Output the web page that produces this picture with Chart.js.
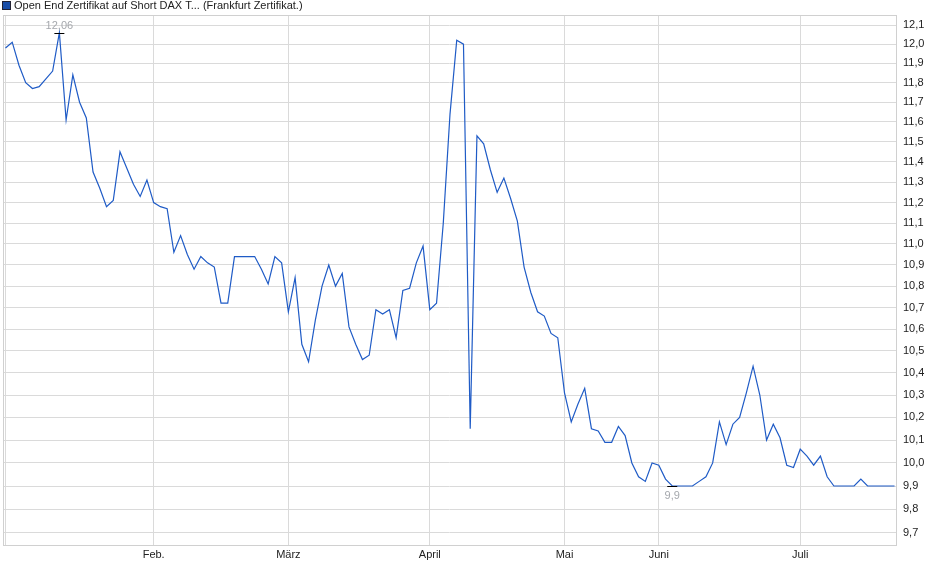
<!DOCTYPE html>
<html>
<head>
<meta charset="utf-8">
<title>Open End Zertifikat auf Short DAX</title>
<script src="https://cdn.jsdelivr.net/npm/chart.js@4.4.1/dist/chart.umd.min.js"></script>
<style>
  html, body { margin: 0; padding: 0; background: #fff; }
</style>
</head>
<body>
<canvas id="kursChart" width="940" height="579"></canvas>
<script>
// Kursverlauf (Handelstage, von Anfang Januar bis Ende Juli)
const kurse = [
  11.98, 12.01, 11.89, 11.80, 11.77, 11.78, 11.82, 11.86, 12.06, 11.61,
  11.84, 11.70, 11.62, 11.35, 11.27, 11.18, 11.21, 11.45, 11.37, 11.29,
  11.23, 11.31, 11.20, 11.18, 11.17, 10.96, 11.04, 10.95, 10.88, 10.94,
  10.91, 10.89, 10.72, 10.72, 10.94, 10.94, 10.94, 10.94, 10.88, 10.81,
  10.94, 10.91, 10.68, 10.84, 10.53, 10.45, 10.64, 10.80, 10.90, 10.80,
  10.86, 10.61, 10.53, 10.46, 10.48, 10.69, 10.67, 10.69, 10.56, 10.78,
  10.79, 10.91, 10.99, 10.69, 10.72, 11.10, 11.64, 12.02, 12.00, 10.15,
  11.53, 11.49, 11.36, 11.25, 11.32, 11.22, 11.11, 10.89, 10.77, 10.68,
  10.66, 10.58, 10.56, 10.31, 10.18, 10.26, 10.33, 10.15, 10.14, 10.09,
  10.09, 10.16, 10.12, 10.00, 9.94, 9.92, 10.00, 9.99, 9.93, 9.90,
  9.90, 9.90, 9.90, 9.92, 9.94, 10.00, 10.18, 10.08, 10.17, 10.20,
  10.31, 10.43, 10.30, 10.10, 10.17, 10.11, 9.99, 9.98, 10.06, 10.03,
  9.99, 10.03, 9.94, 9.90, 9.90, 9.90, 9.90, 9.93, 9.90, 9.90,
  9.90, 9.90, 9.90
];

// Monatsanfaenge (Index des ersten Handelstages) und Beschriftung
const monate = ['', 'Feb.', 'März', 'April', 'Mai', 'Juni', 'Juli'];
const monatIndex = [0, 22, 42, 63, 83, 97, 118];

// Y-Achse (logarithmisch)
const yTicks = [9.7, 9.8, 9.9, 10.0, 10.1, 10.2, 10.3, 10.4, 10.5, 10.6, 10.7, 10.8,
  10.9, 11.0, 11.1, 11.2, 11.3, 11.4, 11.5, 11.6, 11.7, 11.8, 11.9, 12.0, 12.1];

const titel = 'Open End Zertifikat auf Short DAX T... (Frankfurt Zertifikat.)';
const linienFarbe = '#1f5bc6';
const gitterFarbe = '#dadada';
const schrift = '"Liberation Sans", Arial, sans-serif';

const komma = (v) => String(v).replace('.', ',');

// Rahmen um den Plotbereich + Legende oben links
const rahmenPlugin = {
  id: 'rahmen',
  afterDraw(chart) {
    const { ctx, chartArea: a } = chart;
    ctx.save();
    ctx.strokeStyle = '#d0d0d0';
    ctx.lineWidth = 1;
    ctx.strokeRect(Math.round(a.left) + 0.5, Math.round(a.top) + 0.5,
      Math.round(a.right - a.left), Math.round(a.bottom - a.top));
    // Legende
    ctx.fillStyle = '#1a4ea8';
    ctx.fillRect(3, 2, 7, 7);
    ctx.strokeStyle = '#223';
    ctx.strokeRect(2.5, 1.5, 8, 8);
    ctx.fillStyle = '#222';
    ctx.font = '11px ' + schrift;
    ctx.textBaseline = 'middle';
    ctx.textAlign = 'left';
    ctx.fillText(titel, 14, 6);
    ctx.restore();
  }
};

// Hoch / Tief markieren
const extremPlugin = {
  id: 'extrem',
  afterDatasetsDraw(chart) {
    const { ctx } = chart;
    const pts = chart.getDatasetMeta(0).data;
    const maxI = kurse.indexOf(Math.max(...kurse));
    const minI = kurse.indexOf(Math.min(...kurse));
    ctx.save();
    ctx.font = '11px ' + schrift;
    ctx.textAlign = 'center';
    ctx.fillStyle = '#a5a8ad';
    ctx.strokeStyle = '#000';
    ctx.lineWidth = 1;
    [[maxI, -1, 2], [minI, 1, 4]].forEach(([i, dir, abstand]) => {
      const p = pts[i];
      const y = Math.round(p.y) + 0.5;
      ctx.beginPath();
      ctx.moveTo(p.x - 5, y);
      ctx.lineTo(p.x + 5, y);
      ctx.stroke();
      ctx.textBaseline = dir < 0 ? 'bottom' : 'top';
      ctx.fillText(komma(kurse[i]), p.x, y + dir * abstand);
    });
    ctx.restore();
  }
};

const ctx = document.getElementById('kursChart').getContext('2d');

const kursChart = new Chart(ctx, {
  type: 'line',
  data: {
    datasets: [{
      label: titel,
      data: kurse.map((v, i) => ({ x: i, y: v })),
      borderColor: linienFarbe,
      borderWidth: 1.2,
      pointRadius: 0,
      tension: 0,
      fill: false
    }]
  },
  options: {
    responsive: false,
    animation: false,
    layout: { padding: { left: 3, top: 15, right: 0, bottom: 0 } },
    plugins: {
      legend: { display: false },
      tooltip: { enabled: false }
    },
    scales: {
      x: {
        type: 'linear',
        bounds: 'data',
        min: -0.37,
        max: 132.22,
        afterBuildTicks: (scale) => {
          scale.ticks = monatIndex.map(v => ({ value: v }));
        },
        afterFit: (scale) => { scale.height = 34; },
        grid: { color: gitterFarbe, drawTicks: false },
        border: { display: false },
        ticks: {
          autoSkip: false,
          maxRotation: 0,
          padding: 3,
          color: '#222',
          font: { family: schrift, size: 11 },
          callback: (v) => monate[monatIndex.indexOf(v)] || ''
        }
      },
      y: {
        type: 'logarithmic',
        bounds: 'data',
        position: 'right',
        min: 9.649,
        max: 12.153,
        afterBuildTicks: (scale) => {
          scale.ticks = yTicks.map(v => ({ value: v }));
        },
        afterFit: (scale) => { scale.width = 44; },
        grid: { color: gitterFarbe, drawTicks: false },
        border: { display: false },
        ticks: {
          padding: 7,
          color: '#222',
          font: { family: schrift, size: 11 },
          callback: (v) => komma(v.toFixed(1))
        }
      }
    }
  },
  plugins: [rahmenPlugin, extremPlugin]
});
</script>
</body>
</html>
